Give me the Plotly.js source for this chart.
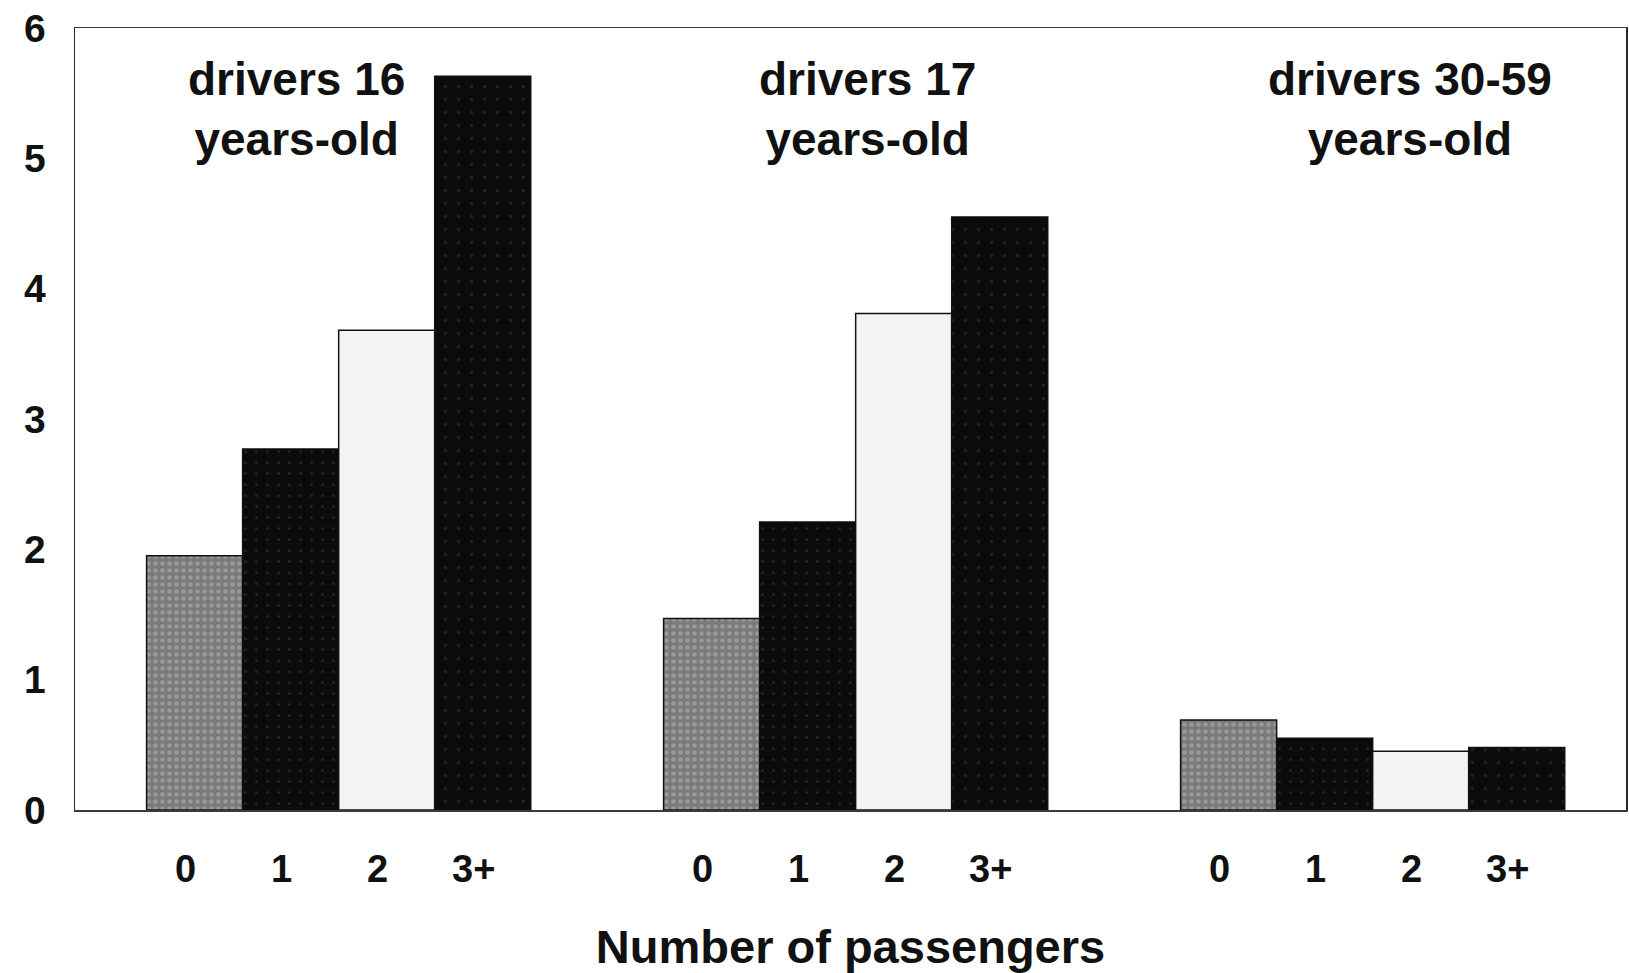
<!DOCTYPE html>
<html>
<head>
<meta charset="utf-8">
<script src="https://cdn.plot.ly/plotly-3.0.1.min.js"></script>
<style>
  html, body { margin: 0; padding: 0; background: #ffffff; }
  #chart { width: 1629px; height: 973px; }
</style>
</head>
<body>
<div id="chart"></div>
<script>
// ---- data ----
const groups = ['16 years-old', '17 years-old', '30-59 years-old'];
const groupLabels = ['drivers 16<br>years-old', 'drivers 17<br>years-old', 'drivers 30-59<br>years-old'];
const passengerLabels = ['0', '1', '2', '3+'];
const passengers0 = [1.95, 1.47, 0.69];
const passengers1 = [2.77, 2.21, 0.55];
const passengers2 = [3.68, 3.81, 0.45];
const passengers3 = [5.63, 4.55, 0.48];
const yTicks = [0, 1, 2, 3, 4, 5, 6];

// ---- styling ----
const FONT = 'Liberation Sans, Arial, Helvetica, sans-serif';
const BARGAP = 0.257;
const seriesValues = [passengers0, passengers1, passengers2, passengers3];
const seriesStyles = [
  {color: '#858585', pattern: {shape: '.', bgcolor: '#7a7a7a', fgcolor: '#b8b8b8', size: 7, solidity: 0.35, fillmode: 'overlay'}},
  {color: '#0b0b0b', pattern: {shape: '.', bgcolor: '#0b0b0b', fgcolor: '#3a3a3a', size: 11, solidity: 0.06, fillmode: 'overlay'}},
  {color: '#f3f3f3', pattern: null},
  {color: '#0b0b0b', pattern: {shape: '.', bgcolor: '#0b0b0b', fgcolor: '#3a3a3a', size: 13, solidity: 0.05, fillmode: 'overlay'}}
];

const traces = seriesValues.map((vals, k) => {
  const marker = {color: seriesStyles[k].color, line: {color: '#111111', width: 1.5}};
  if (seriesStyles[k].pattern) marker.pattern = seriesStyles[k].pattern;
  return {
    type: 'bar',
    name: passengerLabels[k],
    x: groups,
    y: vals,
    marker: marker,
    hoverinfo: 'x+y+name'
  };
});

// group annotations (text above each group)
const groupAnnX = [0.1425, 0.511, 0.861];
const annotations = groupLabels.map((t, i) => ({
  text: t, xref: 'paper', yref: 'paper', x: groupAnnX[i], y: 0.897,
  xanchor: 'center', yanchor: 'middle', showarrow: false, align: 'center',
  font: {family: FONT, size: 46, color: '#111111', weight: 'bold'}
}));

// per-bar passenger labels below the axis, placed in data coordinates
const barW = (1 - BARGAP) / passengerLabels.length;
groups.forEach((g, i) => {
  passengerLabels.forEach((lab, k) => {
    annotations.push({
      text: lab, xref: 'x', yref: 'paper',
      x: i + (k - (passengerLabels.length - 1) / 2) * barW,
      y: -0.0754, xanchor: 'center', yanchor: 'middle', xshift: -9,
      showarrow: false,
      font: {family: FONT, size: 38, color: '#111111', weight: 'bold'}
    });
  });
});

const layout = {
  width: 1629, height: 973,
  margin: {l: 75, r: 3, t: 28, b: 163, autoexpand: false},
  paper_bgcolor: '#ffffff', plot_bgcolor: '#ffffff',
  barmode: 'group', bargap: BARGAP, bargroupgap: 0,
  showlegend: false,
  font: {family: FONT, color: '#111111'},
  xaxis: {
    type: 'category', range: [-0.51, 2.49],
    showticklabels: false, ticks: '',
    showgrid: false, zeroline: false,
    showline: true, mirror: true, linecolor: '#3a3a3a', linewidth: 1.5,
    automargin: false,
    title: {text: 'Number of passengers', standoff: 119,
            font: {family: FONT, size: 47, color: '#111111', weight: 'bold'}}
  },
  yaxis: {
    range: [0, 6], tickvals: yTicks, ticktext: yTicks.map(String),
    ticks: '', showgrid: false, zeroline: false,
    showline: true, mirror: true, linecolor: '#2a2a2a', linewidth: 1.5,
    ticklabelstandoff: 20, automargin: false,
    tickfont: {family: FONT, size: 39, color: '#111111', weight: 'bold'}
  },
  annotations: annotations
};

Plotly.newPlot('chart', traces, layout, {displayModeBar: false, staticPlot: true});
</script>
</body>
</html>
